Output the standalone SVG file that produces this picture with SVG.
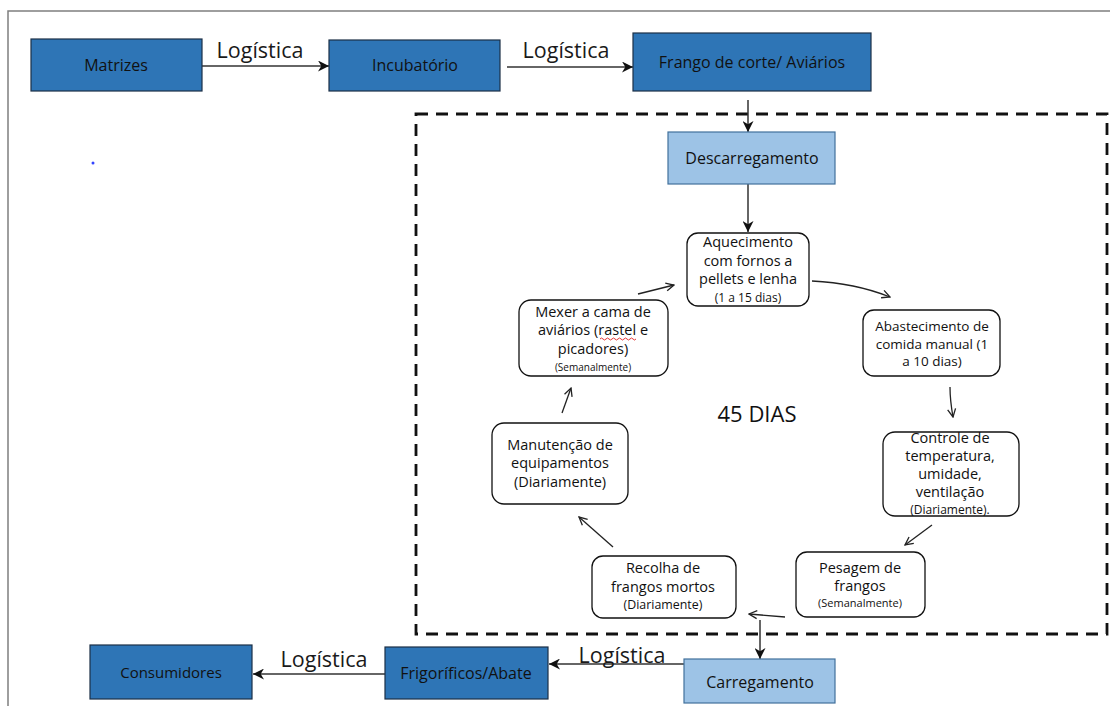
<svg xmlns="http://www.w3.org/2000/svg" width="1110" height="706" viewBox="0 0 1110 706">
<style>
.dk{fill:#2E75B6;stroke:#1c2f47;stroke-width:1.2}
.lt{fill:#9DC3E6;stroke:#41719C;stroke-width:1.2}
.rb{fill:#fff;stroke:#111;stroke-width:1.3}
text{font-family:"Open Sans","Noto Sans","Liberation Sans",sans-serif;fill:#111;text-anchor:middle}
.bt{font-size:16px}
.lg{font-size:21.5px;fill:#1a1a1a}
.m{font-size:14.5px}
.c{stroke:#333;stroke-width:1.5;fill:none}
.cy{stroke:#222;stroke-width:1.3;fill:none}
</style>
<defs>
<marker id="ah" viewBox="0 0 10 10" refX="10" refY="5" markerWidth="11" markerHeight="11" markerUnits="userSpaceOnUse" orient="auto">
<path d="M0,0 L10,5 L0,10 L3,5 z" fill="#111"/>
</marker>
<marker id="oh" viewBox="0 0 10 10" refX="9" refY="5" markerWidth="10" markerHeight="10" markerUnits="userSpaceOnUse" orient="auto">
<path d="M1,1 L9,5 L1,9" fill="none" stroke="#222" stroke-width="1.3"/>
</marker>
</defs>
<rect width="1110" height="706" fill="#fff"/>
<path d="M8,706 L8,11 L1110,11" fill="none" stroke="#7f7f7f" stroke-width="1.5"/>
<circle cx="93" cy="163" r="1.5" fill="#3344ff"/>
<rect id="ciclo" x="416" y="114" width="691" height="520" fill="none" stroke="#111" stroke-width="2.8" stroke-dasharray="12 8"/>
<text x="757" y="422" style="font-size:22px">45 DIAS</text>

<g id="connectors">
<line class="c" x1="202" y1="66" x2="329" y2="66" marker-end="url(#ah)"/>
<line class="c" x1="507" y1="67" x2="633" y2="67" marker-end="url(#ah)"/>
<line class="c" x1="748" y1="100" x2="748" y2="132" marker-end="url(#ah)"/>
<line class="c" x1="748" y1="184" x2="748" y2="232" marker-end="url(#ah)"/>
<path class="cy" d="M812,281 Q855,283 890,297" marker-end="url(#oh)"/>
<path class="cy" d="M950,387 Q950,400 953,417" marker-end="url(#oh)"/>
<line class="cy" x1="932" y1="525" x2="905" y2="545" marker-end="url(#oh)"/>
<line class="cy" x1="785" y1="617" x2="749" y2="614" marker-end="url(#oh)"/>
<line class="cy" x1="613" y1="547" x2="579" y2="517" marker-end="url(#oh)"/>
<line class="cy" x1="562" y1="413" x2="571" y2="388" marker-end="url(#oh)"/>
<line class="cy" x1="638" y1="294" x2="674" y2="285" marker-end="url(#oh)"/>
<line class="c" x1="760" y1="620" x2="760" y2="659" marker-end="url(#ah)"/>
<line class="c" x1="684" y1="664" x2="549" y2="664" marker-end="url(#ah)"/>
<line class="c" x1="385" y1="674" x2="253" y2="674" marker-end="url(#ah)"/>
<text class="lg" x="260" y="58">Logística</text>
<text class="lg" x="566" y="58">Logística</text>
<text class="lg" x="324" y="667">Logística</text>
<text class="lg" x="622" y="663">Logística</text>
</g>

<g id="matrizes"><rect class="dk" x="31" y="39" width="171" height="52"/><text class="bt" x="116" y="71">Matrizes</text></g>
<g id="incubatorio"><rect class="dk" x="329" y="40" width="171" height="51"/><text class="bt" x="415" y="71">Incubatório</text></g>
<g id="frango"><rect class="dk" x="633" y="33" width="238" height="58"/><text class="bt" x="752" y="68">Frango de corte/ Aviários</text></g>
<g id="descarregamento"><rect class="lt" x="668" y="132" width="167" height="52"/><text class="bt" x="752" y="164">Descarregamento</text></g>

<g id="aquecimento"><rect class="rb" x="687" y="233" width="122" height="73" rx="11"/>
<text class="m" x="748" y="247">Aquecimento</text>
<text class="m" x="748" y="266">com fornos a</text>
<text class="m" x="748" y="284">pellets e lenha</text>
<text x="748" y="302" style="font-size:12px">(1 a 15 dias)</text></g>

<g id="abastecimento"><rect class="rb" x="863" y="310" width="137" height="66" rx="11"/>
<text x="932" y="331" style="font-size:13.5px">Abastecimento de</text>
<text x="932" y="349" style="font-size:13.5px">comida manual (1</text>
<text x="932" y="366" style="font-size:13.5px">a 10 dias)</text></g>

<g id="controle"><rect class="rb" x="883" y="432" width="136" height="84" rx="12"/>
<text class="m" x="950" y="443">Controle de</text>
<text class="m" x="950" y="461">temperatura,</text>
<text class="m" x="950" y="479">umidade,</text>
<text class="m" x="950" y="497">ventilação</text>
<text x="950" y="514" style="font-size:12px">(Diariamente).</text></g>

<g id="pesagem"><rect class="rb" x="796" y="552" width="129" height="65" rx="11"/>
<text class="m" x="860" y="573">Pesagem de</text>
<text class="m" x="860" y="591">frangos</text>
<text x="860" y="607" style="font-size:11px">(Semanalmente)</text></g>

<g id="recolha"><rect class="rb" x="592" y="556" width="144" height="62" rx="11"/>
<text class="m" x="663" y="573">Recolha de</text>
<text class="m" x="663" y="592">frangos mortos</text>
<text x="663" y="609" style="font-size:12.4px">(Diariamente)</text></g>

<g id="manutencao"><rect class="rb" x="492" y="423" width="136" height="81" rx="12"/>
<text class="m" x="560" y="450">Manutenção de</text>
<text class="m" x="560" y="468">equipamentos</text>
<text class="m" x="560" y="487">(Diariamente)</text></g>

<g id="mexer"><rect class="rb" x="519" y="300" width="149" height="76" rx="12"/>
<text class="m" x="593" y="317">Mexer a cama de</text>
<text class="m" x="593" y="335">aviários (rastel e</text>
<text class="m" x="593" y="354">picadores)</text>
<text x="593" y="371" style="font-size:10px">(Semanalmente)</text>
<path d="M600,339 q1.5,-2 3,0 t3,0 t3,0 t3,0 t3,0 t3,0 t3,0 t3,0 t3,0 t3,0 t3,0 t3,0" fill="none" stroke="#e02020" stroke-width="0.9"/></g>

<g id="carregamento"><rect class="lt" x="684" y="659" width="151" height="44"/><text class="bt" x="760" y="688">Carregamento</text></g>
<g id="frigorificos"><rect class="dk" x="385" y="647" width="163" height="52"/><text class="bt" x="466" y="679">Frigoríficos/Abate</text></g>
<g id="consumidores"><rect class="dk" x="90" y="645" width="162" height="54"/><text x="171" y="678" style="font-size:15px">Consumidores</text></g>
</svg>
